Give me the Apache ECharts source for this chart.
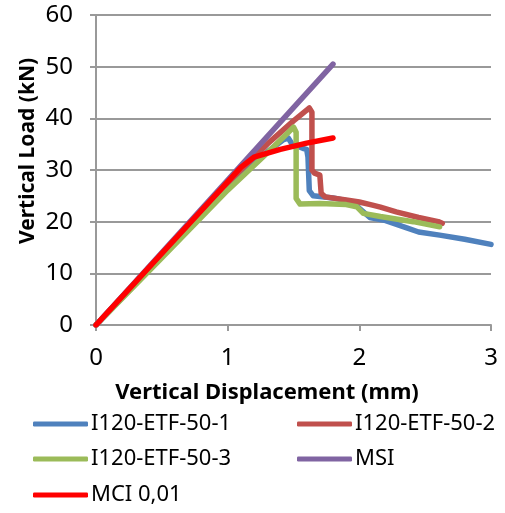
<!DOCTYPE html>
<html>
<head>
<meta charset="utf-8">
<script src="https://cdn.jsdelivr.net/npm/echarts@6/dist/echarts.min.js"></script>
<style>
    html, body {margin: 0; padding: 0; background: #fff;}
    #chart {width: 505px; height: 513px;}
</style>
</head>
<body>
<div id="chart"></div>
<script>
    // [displacement mm, load kN]
    var names = ['I120-ETF-50-1', 'I120-ETF-50-2', 'I120-ETF-50-3', 'MSI', 'MCI 0,01'];
    var colors = ['#4F81BD', '#C0504D', '#9BBB59', '#8064A2', '#FF0000'];

    var test1 = [[0, 0], [0.5, 13.3], [1.0, 26.6], [1.3, 33.5], [1.42, 35.8], [1.46, 36.2], [1.49, 35.0],
        [1.57, 34.2], [1.6, 34.0], [1.61, 32.5], [1.62, 26.0], [1.65, 25.0], [1.8, 24.6], [1.95, 23.8],
        [2.0, 22.6], [2.08, 20.8], [2.2, 20.2], [2.36, 18.8], [2.45, 18.0], [2.61, 17.4], [2.8, 16.6], [3.0, 15.6]];
    var test2 = [[0, 0], [0.5, 13.8], [1.0, 27.5], [1.3, 35.0], [1.5, 39.5], [1.6, 41.6], [1.62, 42.0],
        [1.64, 41.2], [1.64, 30.0], [1.66, 29.4], [1.70, 29.0], [1.71, 25.5], [1.74, 24.8], [1.9, 24.2],
        [2.0, 23.8], [2.1, 23.2], [2.16, 22.8], [2.28, 21.9], [2.45, 20.8], [2.6, 20.0], [2.63, 19.7]];
    var test3 = [[0, 0], [0.5, 13.0], [1.0, 26.1], [1.3, 33.3], [1.45, 37.0], [1.50, 38.3], [1.52, 37.3],
        [1.52, 24.5], [1.55, 23.4], [1.7, 23.5], [1.9, 23.3], [1.98, 22.9], [2.03, 21.6], [2.16, 21.0],
        [2.41, 20.0], [2.61, 19.0]];
    var msi = [[0, 0], [1.8, 50.5]];
    var mci = [[0, 0], [1.0, 27.7], [1.1, 30.5], [1.2, 32.5], [1.4, 34.0], [1.6, 35.2], [1.8, 36.2]];

    var xTicks = [0, 1, 2, 3];
    var yTicks = [0, 10, 20, 30, 40, 50, 60];

    var font = 'Noto Sans';
    var seriesData = [test1, test2, test3, msi, mci];

    var legendPos = [[33, 413], [297, 413], [33, 448], [297, 448], [33, 484]];

    var myChart = echarts.init(document.getElementById('chart'));
    var series = [];
    var legends = [];
    for (var i = 0; i < names.length; i++) {
        series.push({
            name: names[i],
            type: 'line',
            data: seriesData[i],
            symbol: 'none',
            lineStyle: {width: 5.5, color: colors[i], cap: 'round', join: 'round'},
            itemStyle: {color: colors[i]},
            silent: true,
            animation: false
        });
        legends.push({
            data: [names[i]],
            left: legendPos[i][0],
            top: legendPos[i][1],
            icon: 'roundRect',
            itemWidth: 55,
            itemHeight: 5,
            padding: 0,
            textStyle: {fontFamily: font, fontSize: 22, color: '#000', padding: [0, 0, 0, -2]}
        });
    }

    var option = {
        animation: false,
        grid: {left: 96, right: 14, top: 15, bottom: 188},
        xAxis: {
            type: 'value', min: xTicks[0], max: xTicks[xTicks.length - 1], interval: 1,
            axisLine: {lineStyle: {color: '#999', width: 2}},
            axisTick: {show: true, length: 6, lineStyle: {color: '#999', width: 2}},
            splitLine: {show: false},
            axisLabel: {fontFamily: font, fontSize: 24, color: '#000', margin: 21}
        },
        yAxis: {
            type: 'value', min: yTicks[0], max: yTicks[yTicks.length - 1], interval: 10,
            axisLine: {show: true, lineStyle: {color: '#999', width: 2}},
            axisTick: {show: true, length: 6, lineStyle: {color: '#999', width: 2}},
            splitLine: {show: true, lineStyle: {color: '#999', width: 2}},
            axisLabel: {fontFamily: font, fontSize: 24, color: '#000', margin: 23}
        },
        legend: legends,
        graphic: [{
            type: 'text', x: 28, y: 151, rotation: Math.PI / 2,
            style: {text: 'Vertical Load (kN)', font: 'bold 21px "Noto Sans"', fill: '#000',
                align: 'center', verticalAlign: 'middle'}
        }, {
            type: 'text', x: 267, y: 393,
            style: {text: 'Vertical Displacement (mm)', font: 'bold 22px "Noto Sans"', fill: '#000',
                align: 'center', verticalAlign: 'middle'}
        }],
        series: series
    };
    myChart.setOption(option);
</script>
</body>
</html>
